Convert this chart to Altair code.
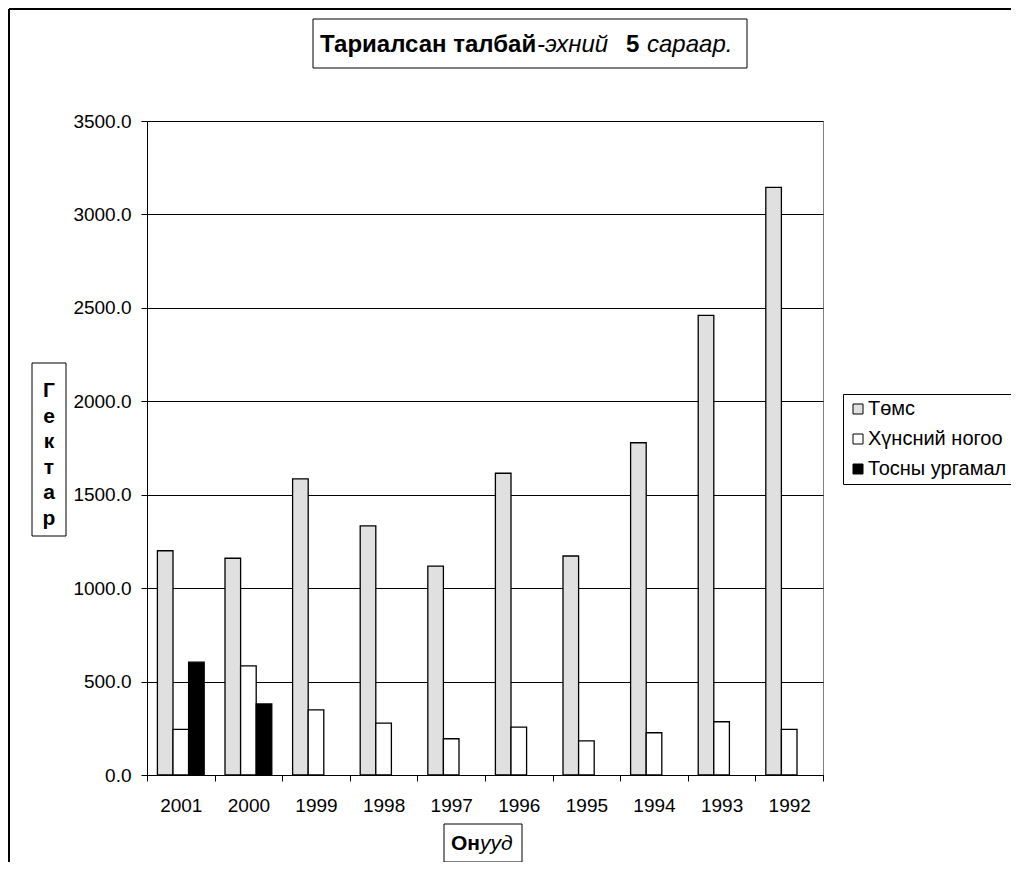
import altair as alt
import pandas as pd

years = ["2001", "2000", "1999", "1998", "1997", "1996", "1995", "1994", "1993", "1992"]
series = ["Төмс", "Хүнсний ногоо", "Тосны ургамал"]
temc = [1200, 1160, 1585, 1333, 1118, 1615, 1172, 1778, 2460, 3145]
hunsnii = [244, 584, 348, 278, 194, 256, 183, 226, 285, 244]
tosny = [604, 380, None, None, None, None, None, None, None, None]
colors = ["#E0E0E0", "#FFFFFF", "#000000"]
y_ticks = [0, 500, 1000, 1500, 2000, 2500, 3000, 3500]

title_parts = ["Тариалсан талбай", "-эхний", "5", "сараар."]
y_title_letters = ["Г", "е", "к", "т", "а", "р"]
x_title_parts = ["Он", "ууд"]

FONT = "Liberation Sans"

rows = []
for i, yr in enumerate(years):
    for s, vals in zip(series, [temc, hunsnii, tosny]):
        if vals[i] is not None:
            rows.append({"year": yr, "series": s, "value": vals[i]})
df = pd.DataFrame(rows)
one = pd.DataFrame({"k": [0]})

W, H = 676, 654

bars = alt.Chart(df).mark_bar(stroke="black", strokeWidth=1.3).encode(
    x=alt.X("year:N", sort=years,
            scale=alt.Scale(paddingInner=0, paddingOuter=0),
            axis=alt.Axis(title=None, tickBand="extent", labelAngle=0, labelFontSize=19,
                          labelFont=FONT, labelColor="black", labelPadding=15, tickSize=6,
                          tickColor="black", domainColor="black", grid=False)),
    xOffset=alt.XOffset("series:N", sort=series,
                        scale=alt.Scale(domain=series, paddingInner=0, paddingOuter=0.667)),
    y=alt.Y("value:Q", scale=alt.Scale(domain=[0, 3500], nice=False),
            axis=alt.Axis(title=None, values=y_ticks, format=".1f", labelFontSize=19,
                          labelFont=FONT, labelColor="black", labelPadding=10, tickSize=6,
                          tickColor="black", domainColor="black", grid=True,
                          gridColor="black", gridWidth=1, gridOpacity=1)),
    color=alt.Color("series:N", sort=series,
                    scale=alt.Scale(domain=series, range=colors),
                    legend=alt.Legend(title=None, orient="none", legendX=696, legendY=273,
                                      symbolType="square", symbolSize=100,
                                      symbolStrokeColor="black", symbolStrokeWidth=1,
                                      labelFontSize=20, labelFont=FONT, labelColor="black",
                                      strokeColor="black", fillColor="white", padding=5,
                                      rowPadding=10, labelOffset=0)),
)

frame_left = alt.Chart(one).mark_rule(color="black", strokeWidth=2).encode(
    x=alt.value(-138), y=alt.value(-112), y2=alt.value(760))
frame_top = alt.Chart(one).mark_rule(color="black", strokeWidth=2).encode(
    y=alt.value(-112), x=alt.value(-138), x2=alt.value(880))

title_box = alt.Chart(one).mark_rect(fill="white", stroke="black", strokeWidth=1).encode(
    x=alt.value(166), x2=alt.value(600), y=alt.value(-102), y2=alt.value(-53))
t_y = -69
TS = 24
t1 = alt.Chart(one).mark_text(text=title_parts[0], align="left", baseline="alphabetic",
                              font=FONT, fontSize=TS, fontWeight="bold", color="black").encode(
    x=alt.value(173), y=alt.value(t_y))
t2 = alt.Chart(one).mark_text(text=title_parts[1], align="left", baseline="alphabetic",
                              font=FONT, fontSize=TS, fontStyle="italic", color="black").encode(
    x=alt.value(390), y=alt.value(t_y))
t3 = alt.Chart(one).mark_text(text=title_parts[2], align="left", baseline="alphabetic",
                              font=FONT, fontSize=TS, fontWeight="bold", color="black").encode(
    x=alt.value(479), y=alt.value(t_y))
t4 = alt.Chart(one).mark_text(text=title_parts[3], align="left", baseline="alphabetic",
                              font=FONT, fontSize=TS, fontStyle="italic", color="black").encode(
    x=alt.value(500), y=alt.value(t_y))

ytitle_box = alt.Chart(one).mark_rect(fill="white", stroke="black", strokeWidth=1).encode(
    x=alt.value(-115), x2=alt.value(-81), y=alt.value(242), y2=alt.value(415))
ytitle = alt.Chart(one).mark_text(text=y_title_letters, align="center", baseline="alphabetic",
                                  lineHeight=25.5, font=FONT, fontSize=21, fontWeight="bold",
                                  color="black").encode(
    x=alt.value(-98), y=alt.value(276))

xtitle_box = alt.Chart(one).mark_rect(fill="white", stroke="black", strokeWidth=1).encode(
    x=alt.value(297), x2=alt.value(375), y=alt.value(703), y2=alt.value(741))
xt1 = alt.Chart(one).mark_text(text=x_title_parts[0], align="left", baseline="alphabetic",
                               font=FONT, fontSize=21, fontWeight="bold", color="black").encode(
    x=alt.value(304), y=alt.value(729))
xt2 = alt.Chart(one).mark_text(text=x_title_parts[1], align="left", baseline="alphabetic",
                               font=FONT, fontSize=21, fontStyle="italic", color="black").encode(
    x=alt.value(333), y=alt.value(729))

chart = alt.layer(
    frame_left, frame_top, title_box, t1, t2, t3, t4,
    ytitle_box, ytitle, xtitle_box, xt1, xt2, bars
).properties(
    width=W, height=H,
    autosize=alt.AutoSizeParams(type="none"),
    padding={"left": 139, "top": 113, "right": 188, "bottom": 87},
    background="white",
).configure_view(stroke="#808080", strokeWidth=1)

chart.save("out.html", embed_options={"renderer": "svg", "actions": False})
